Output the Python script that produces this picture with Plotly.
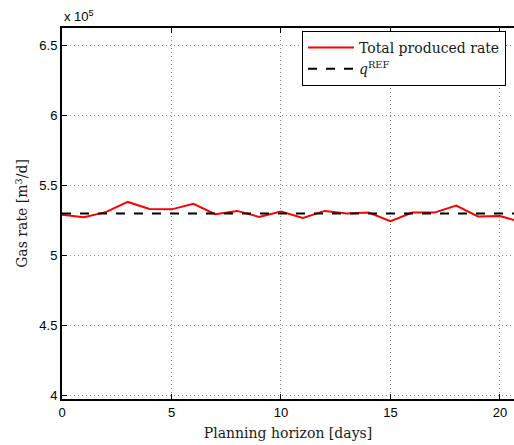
import plotly.graph_objects as go

# Planning horizon (days) and total produced gas rate (m^3/d)
days = list(range(0, 22))
total_rate = [529000, 527300, 530900, 538200, 533200, 532900, 536800, 529500,
              531800, 527500, 531300, 526800, 531800, 530000, 530600, 524500,
              530600, 530600, 535600, 527800, 528200, 523700]
q_ref = 530000

y_ticks = [400000, 450000, 500000, 550000, 600000, 650000]
y_labels = ["4", "4.5", "5", "5.5", "6", "6.5"]
x_ticks = [0, 5, 10, 15, 20]

serif = "DejaVu Serif"
sans = "Liberation Sans"
text_color = "#1a1a1a"

fig = go.Figure()
fig.add_trace(go.Scatter(
    x=days, y=total_rate, mode="lines", name="Total produced rate",
    line=dict(color="#ff0000", width=2),
))
fig.add_trace(go.Scatter(
    x=[days[0], days[-1]], y=[q_ref, q_ref], mode="lines",
    name="<i>q</i><sup>REF</sup>",
    line=dict(color="black", width=2, dash="dash"),
))

axis_common = dict(
    showline=True, linecolor="black", linewidth=2,
    ticks="inside", ticklen=5, tickcolor="black", tickwidth=1,
    showgrid=True, gridcolor="#8a8a8a", griddash="1px,3px", gridwidth=1,
    zeroline=False, tickfont=dict(family=sans, size=13, color="black"),
)

fig.update_xaxes(
    range=[0, 20.64], tickvals=x_ticks, mirror="ticks",
    title=dict(text="Planning horizon [days]",
               font=dict(family=serif, size=14, color=text_color),
               standoff=10),
    **axis_common,
)
fig.update_yaxes(
    range=[397600, 662300], tickvals=y_ticks, ticktext=y_labels, mirror=False,
    title=dict(text="Gas rate [m<sup>3</sup>/d]",
               font=dict(family=serif, size=14, color=text_color),
               standoff=8),
    **axis_common,
)

fig.add_annotation(
    text="x 10<sup>5</sup>", xref="paper", yref="paper", x=0, y=1,
    xanchor="left", yanchor="bottom", showarrow=False, yshift=2,
    font=dict(family=sans, size=13, color="black"),
)

fig.update_layout(
    width=514, height=445,
    margin=dict(l=62, r=0, t=28, b=46, autoexpand=False),
    plot_bgcolor="white", paper_bgcolor="white",
    showlegend=True,
    legend=dict(
        x=0.531, y=0.992, xanchor="left", yanchor="top",
        bgcolor="white", bordercolor="black", borderwidth=1,
        font=dict(family=serif, size=14, color=text_color),
        itemwidth=46, tracegroupgap=0,
    ),
)

fig.write_html("out.html")
